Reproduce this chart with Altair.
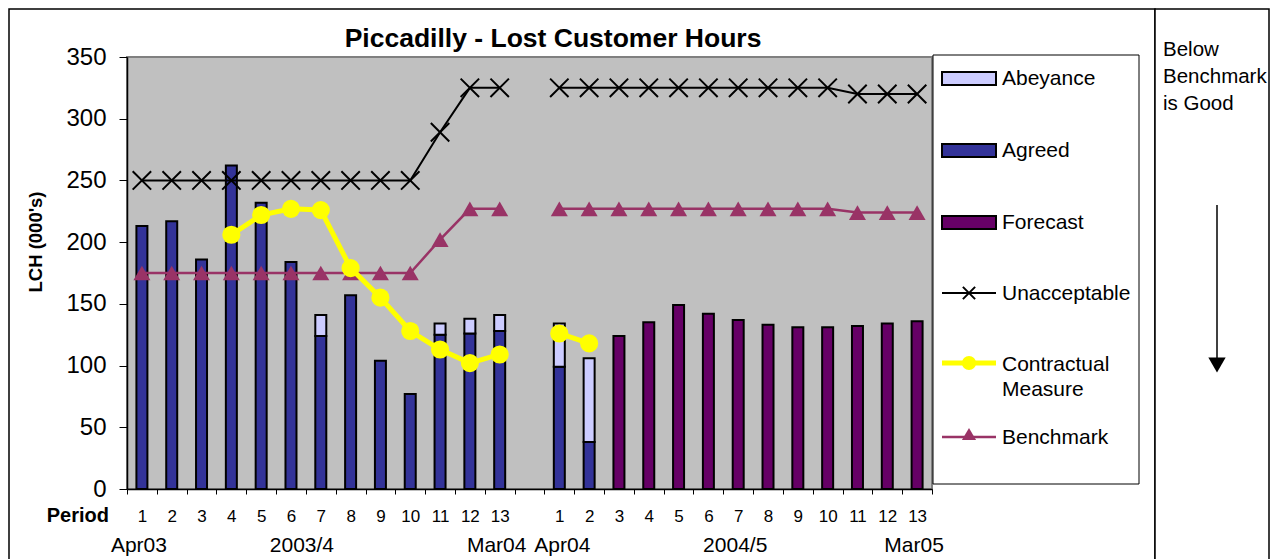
import altair as alt
import pandas as pd

FONT = "Arial, Liberation Sans, sans-serif"

# ---- categories -------------------------------------------------------
periods = ["1", "2", "3", "4", "5", "6", "7", "8", "9", "10", "11", "12", "13"]
year1_keys = ["P" + p for p in periods]
year2_keys = ["Q" + p for p in periods]
slots = year1_keys + ["G"] + year2_keys

# ---- series values (000's) --------------------------------------------
agreed_y1 = [213, 217, 186, 262, 232, 184, 124, 157, 104, 77, 125, 126, 128]
abeyance_y1 = [0, 0, 0, 0, 0, 0, 17, 0, 0, 0, 9, 12, 13]
forecast_y1 = [0, 0, 0, 0, 0, 0, 0, 0, 0, 0, 0, 0, 0]

agreed_y2 = [99, 38, 0, 0, 0, 0, 0, 0, 0, 0, 0, 0, 0]
abeyance_y2 = [35, 68, 0, 0, 0, 0, 0, 0, 0, 0, 0, 0, 0]
forecast_y2 = [0, 0, 124, 135, 149, 142, 137, 133, 131, 131, 132, 134, 136]

unacceptable_y1 = [250, 250, 250, 250, 250, 250, 250, 250, 250, 250, 289, 325, 325]
unacceptable_y2 = [325, 325, 325, 325, 325, 325, 325, 325, 325, 325, 320, 320, 320]

benchmark_y1 = [175, 175, 175, 175, 175, 175, 175, 175, 175, 175, 202, 227, 227]
benchmark_y2 = [227, 227, 227, 227, 227, 227, 227, 227, 227, 227, 224, 224, 224]

contractual_y1 = [None, None, None, 206, 222, 227, 226, 179, 155, 128, 113, 102, 109]
contractual_y2 = [126, 118, None, None, None, None, None, None, None, None, None, None, None]

bar_series = ["Abeyance", "Agreed", "Forecast"]
bar_colors = ["#CCCCFF", "#333399", "#660066"]

# bottom category-group labels
group_a_labels = ["Apr03", "Mar04", "2004/5", "Mar05"]
group_a_slots = ["P1", "P13", "Q7", "Q13"]
group_b_labels = ["Apr04"]
group_b_slots = ["Q1"]
group_c_labels = ["2003/4"]
group_c_slots = ["P7"]

# ---- tables -------------------------------------------------------------
bar_rows = []
for keys, ag, ab, fc in [(year1_keys, agreed_y1, abeyance_y1, forecast_y1),
                         (year2_keys, agreed_y2, abeyance_y2, forecast_y2)]:
    for k, a, b, f in zip(keys, ag, ab, fc):
        if a:
            bar_rows.append({"slot": k, "series": "Agreed", "lo": 0, "hi": a})
        if b:
            bar_rows.append({"slot": k, "series": "Abeyance", "lo": a, "hi": a + b})
        if f:
            bar_rows.append({"slot": k, "series": "Forecast", "lo": 0, "hi": f})
bars_df = pd.DataFrame(bar_rows)

line_rows = []
for name, s1, s2 in [("Unacceptable", unacceptable_y1, unacceptable_y2),
                     ("Benchmark", benchmark_y1, benchmark_y2),
                     ("Contractual", contractual_y1, contractual_y2)]:
    for yr, keys, vals in [("y1", year1_keys, s1), ("y2", year2_keys, s2)]:
        for k, v in zip(keys, vals):
            if v is not None:
                line_rows.append({"slot": k, "idx": slots.index(k), "year": yr,
                                  "series": name, "value": v})
lines_df = pd.DataFrame(line_rows)

one = pd.DataFrame({"k": [0]})

# ---- scales / axes ----------------------------------------------------
x_scale = alt.Scale(domain=slots, paddingInner=0, paddingOuter=0)
y_scale = alt.Scale(domain=[0, 350], nice=False)

x_axis = alt.Axis(title=None,
                  labelExpr="isString(datum.value) ? slice(datum.value, 1) : ''",
                  tickBand="extent",
                  labelAngle=0, labelFont=FONT, labelFontSize=17, labelColor="black",
                  labelPadding=14, tickSize=5, tickColor="black", domainColor="black",
                  domainWidth=1.5, grid=False)
y_axis = alt.Axis(title=None, values=[0, 50, 100, 150, 200, 250, 300, 350],
                  labelFont=FONT, labelFontSize=24, labelColor="black", labelPadding=13,
                  tickSize=8, tickColor="black", domainColor="black", domainWidth=1.5,
                  grid=False)

XPATH = "M-1,-1L1,1M-1,1L1,-1"

bars = alt.Chart(bars_df).mark_bar(size=11, stroke="black", strokeWidth=2).encode(
    x=alt.X("slot:N", scale=x_scale, axis=x_axis),
    y=alt.Y("lo:Q", scale=y_scale, axis=y_axis),
    y2="hi:Q",
    color=alt.Color("series:N", scale=alt.Scale(domain=bar_series, range=bar_colors),
                    legend=None),
)


def series_layers(name, color, width, shape, size, filled):
    base = alt.Chart(lines_df).transform_filter(alt.datum.series == name)
    line = base.mark_line(color=color, strokeWidth=width).encode(
        x=alt.X("slot:N"), y=alt.Y("value:Q"), detail="year:N", order="idx:Q")
    if filled:
        pts = base.mark_point(shape=shape, size=size, filled=True, color=color, opacity=1)
    else:
        pts = base.mark_point(shape=shape, size=size, filled=False, color=color,
                              strokeWidth=2, opacity=1)
    pts = pts.encode(x=alt.X("slot:N"), y=alt.Y("value:Q"))
    return [line, pts]


unacc = series_layers("Unacceptable", "black", 2, XPATH, 340, False)
bench = series_layers("Benchmark", "#993366", 2.5, "triangle-up", 290, True)
contr = series_layers("Contractual", "#FFFF00", 5, "circle", 330, True)


# ---- decoration helpers ----------------------------------------------
def txt(s, x, y, size=21, weight="normal", align="left", baseline="middle", angle=0):
    return alt.Chart(one).mark_text(font=FONT, fontSize=size, fontWeight=weight,
                                    align=align, baseline=baseline, angle=angle,
                                    color="black").encode(
        x=alt.value(x), y=alt.value(y), text=alt.value(s))


def box(x0, x1, y0, y1, fill=None, stroke="black", sw=1.5):
    kw = {"stroke": stroke, "strokeWidth": sw}
    if fill is None:
        kw["fillOpacity"] = 0
        kw["fill"] = "white"
    else:
        kw["fill"] = fill
    return alt.Chart(one).mark_rect(**kw).encode(
        x=alt.value(x0), x2=alt.value(x1), y=alt.value(y0), y2=alt.value(y1))


def seg(x0, x1, y0, y1, color="black", sw=1.5):
    return alt.Chart(one).mark_rule(color=color, strokeWidth=sw).encode(
        x=alt.value(x0), x2=alt.value(x1), y=alt.value(y0), y2=alt.value(y1))


def sym(x, y, shape, size, color, filled=True, sw=2):
    if filled:
        m = alt.Chart(one).mark_point(shape=shape, size=size, filled=True, color=color,
                                      opacity=1)
    else:
        m = alt.Chart(one).mark_point(shape=shape, size=size, filled=False, color=color,
                                      strokeWidth=sw, opacity=1)
    return m.encode(x=alt.value(x), y=alt.value(y))


def group_labels(labels, keys, band, dx):
    df = pd.DataFrame({"slot": keys, "label": labels})
    return alt.Chart(df).mark_text(font=FONT, fontSize=21, color="black", dx=dx,
                                   baseline="alphabetic", align="center").encode(
        x=alt.X("slot:N", bandPosition=band), y=alt.value(495), text="label:N")


frame = [box(-118, 1028, -48, 520), box(1028, 1142, -48, 520, fill="white")]

LX0, LX1, LXC, LT = 815, 869, 842, 875
legend = [
    box(806, 1012, -2, 427, fill="white", sw=1),
    box(LX0, LX1, 15, 28, fill="#CCCCFF", sw=2), txt("Abeyance", LT, 22),
    box(LX0, LX1, 87, 100, fill="#333399", sw=2), txt("Agreed", LT, 94),
    box(LX0, LX1, 159, 172, fill="#660066", sw=2), txt("Forecast", LT, 166),
    seg(LX0, LX1, 236, 236, sw=2), sym(LXC, 236, XPATH, 150, "black", filled=False),
    txt("Unacceptable", LT, 237),
    seg(LX0, LX1, 306, 306, color="#FFFF00", sw=5), sym(LXC, 306, "circle", 200, "#FFFF00"),
    txt("Contractual", LT, 308), txt("Measure", LT, 333),
    seg(LX0, LX1, 380, 380, color="#993366", sw=2.5),
    sym(LXC, 377, "triangle-up", 200, "#993366"), txt("Benchmark", LT, 381),
]

texts = [
    txt("Piccadilly - Lost Customer Hours", 426, -10, size=26.5, weight="bold",
        align="center", baseline="alphabetic"),
    txt("LCH (000's)", -91, 185, size=18.5, weight="bold", align="center", angle=270),
    txt("Period", -18, 465, size=20, weight="bold", align="right", baseline="alphabetic"),
    txt("Below", 1036, -1, size=20.5, baseline="alphabetic"),
    txt("Benchmark", 1036, 26, size=20.5, baseline="alphabetic"),
    txt("is Good", 1036, 53, size=20.5, baseline="alphabetic"),
    seg(1090, 1090, 148, 305, sw=1.5),
    sym(1090, 308, "triangle-down", 300, "black"),
]

bottoms = [
    group_labels(group_a_labels, group_a_slots, 0.5, -3),
    group_labels(group_b_labels, group_b_slots, 0.5, 3),
    group_labels(group_c_labels, group_c_slots, 0, -4),
]

layers = frame + [bars] + unacc + bench + contr + legend + texts + bottoms

chart = alt.layer(*layers).properties(
    width=805, height=432,
    autosize=alt.AutoSizeParams(type="none"),
    padding={"left": 119, "top": 49, "right": 339, "bottom": 70},
    background="white",
).configure_view(fill="#C0C0C0", stroke="#808080", strokeWidth=2)

chart.save("out.html", embed_options={"renderer": "svg", "actions": False})
